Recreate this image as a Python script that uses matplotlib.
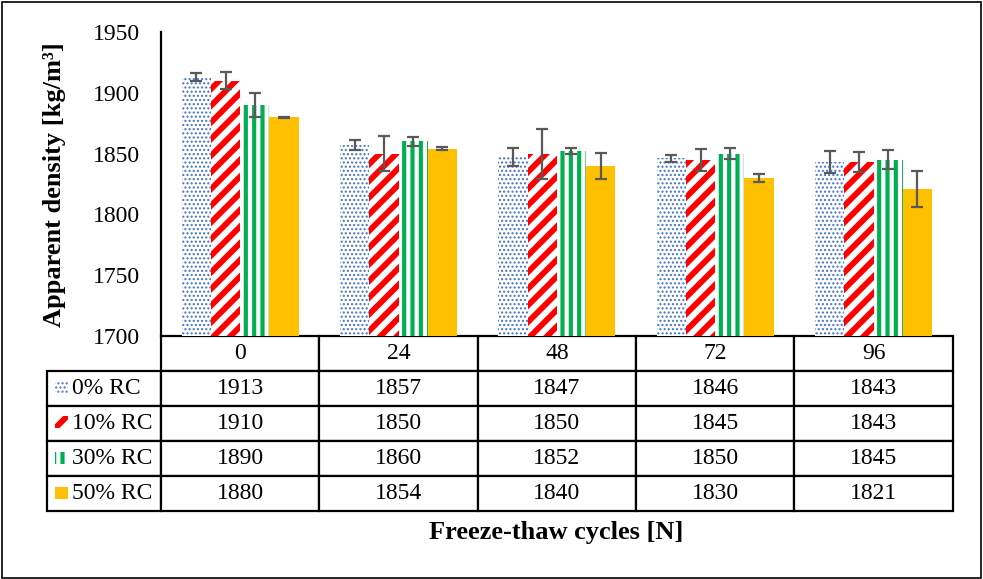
import matplotlib
matplotlib.use("Agg")
import matplotlib.pyplot as plt
import numpy as np
from matplotlib.table import Table
from matplotlib.patches import Rectangle

plt.rcParams['font.family'] = ['Liberation Serif', 'DejaVu Serif']

cycles = ["0", "24", "48", "72", "96"]
series = ["0% RC", "10% RC", "30% RC", "50% RC"]
rc0 = [1913, 1857, 1847, 1846, 1843]
rc10 = [1910, 1850, 1850, 1845, 1843]
rc30 = [1890, 1860, 1852, 1850, 1845]
rc50 = [1880, 1854, 1840, 1830, 1821]
err0 = [3, 4, 7.5, 2.5, 9]
err10 = [7, 14.5, 20.5, 9, 8]
err30 = [9.5, 3.8, 2.5, 4.4, 8]
err50 = [0.5, 1.4, 10.5, 3, 15]
yticks = [1700, 1750, 1800, 1850, 1900, 1950]

values = [rc0, rc10, rc30, rc50]
errors = [err0, err10, err30, err50]
styles = [
    dict(facecolor='white', edgecolor='#4472C4', hatch='....', hlw=1.0),
    dict(facecolor='white', edgecolor='#FF0000', hatch='//', hlw=4.2),
    dict(facecolor='white', edgecolor='#00B050', hatch='||', hlw=3.0),
    dict(facecolor='#FFC000', edgecolor='#FFC000', hatch=None, hlw=1.0),
]

W, H = 983, 579
fig = plt.figure(figsize=(W / 100, H / 100), dpi=100)
ax_l, ax_r, ax_t, ax_b = 161, 952.7, 32, 336
ax = fig.add_axes([ax_l / W, 1 - ax_b / H, (ax_r - ax_l) / W, (ax_b - ax_t) / H])

x = np.arange(len(cycles))
bw = 0.185


def make_bar(xs, vals, st):
    with plt.rc_context({'hatch.linewidth': st['hlw']}):
        bars = ax.bar(xs, vals, bw, facecolor=st['facecolor'], edgecolor=st['edgecolor'],
                      linewidth=0, hatch=st['hatch'], zorder=2)
        for b in bars:
            if hasattr(b, 'set_hatch_linewidth'):
                b.set_hatch_linewidth(st['hlw'])
    return bars


for j, (vals, errs, st) in enumerate(zip(values, errors, styles)):
    xs = x + (j - 1.5) * bw
    make_bar(xs, vals, st)
    ax.errorbar(xs, vals, yerr=errs, fmt='none', ecolor='#595959', elinewidth=1.6,
                capsize=4.5, capthick=1.6, zorder=3)

ax.set_xlim(-0.5, len(cycles) - 0.5)
ax.set_ylim(1700, 1950)
ax.set_yticks(yticks)
ax.tick_params(axis='y', length=0, pad=15, labelsize=17)
ax.set_xticks([])
for s in ['top', 'right', 'bottom']:
    ax.spines[s].set_visible(False)
ax.spines['left'].set_linewidth(1.6)

# data table (cell sizes given directly in axes units)
ax_w_px = ax_r - ax_l
ax_h_px = ax_b - ax_t
col_w = 1.0 / len(cycles)
lab_w = (ax_l - 46.5) / ax_w_px
tbl_h = (511 - ax_b) / ax_h_px
row_h = tbl_h / (len(series) + 1)
tb = Table(ax, bbox=[0, -tbl_h, 1, tbl_h])
for c, lab in enumerate(cycles):
    tb.add_cell(0, c, width=col_w, height=row_h, text=lab, loc='center')
for r, (name, vals) in enumerate(zip(series, values), start=1):
    cell = tb.add_cell(r, -1, width=lab_w, height=row_h, text=name, loc='left')
    cell.PAD = 0.223
    for c, v in enumerate(vals):
        tb.add_cell(r, c, width=col_w, height=row_h, text=str(v), loc='center')
tb.auto_set_font_size(False)
tb.set_fontsize(17)
for (r, c), cell in tb.get_celld().items():
    cell.set_edgecolor('black')
    cell.set_linewidth(1.6)
ax.add_table(tb)

# legend keys inside the table row labels
row_centers = [386.5, 422, 457.5, 493]
for st, yc in zip(styles, row_centers):
    with plt.rc_context({'hatch.linewidth': st['hlw']}):
        p = Rectangle(((55 - ax_l) / ax_w_px, (ax_b - (yc + 6)) / ax_h_px),
                      13 / ax_w_px, 12 / ax_h_px, transform=ax.transAxes,
                      facecolor=st['facecolor'], edgecolor=st['edgecolor'], linewidth=0,
                      hatch=st['hatch'], clip_on=False, zorder=5)
        if hasattr(p, 'set_hatch_linewidth'):
            p.set_hatch_linewidth(st['hlw'])
    ax.add_patch(p)

fig.text(556 / W, 1 - 532 / H, "Freeze-thaw cycles [N]", ha='center', va='center',
         fontsize=19, fontweight='bold')
fig.text(55 / W, 1 - 185 / H, "Apparent density [kg/m³]", ha='center', va='center',
         rotation=90, fontsize=19, fontweight='bold')

fig.patches.append(Rectangle((2 / W, 1.5 / H), 979 / W, 576 / H, transform=fig.transFigure,
                             fill=False, edgecolor='black', linewidth=1.2))

fig.savefig("out.png", dpi=100)
